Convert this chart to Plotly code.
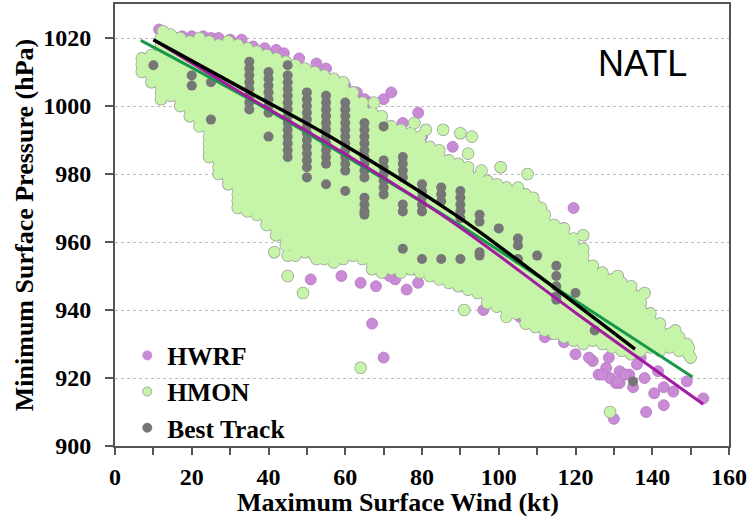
import plotly.graph_objects as go

# ---------------- data ----------------
# HMON model points: column wind values (kt) and the pressures (hPa) seen in each column
hmon_wind_a = [7, 9.5, 12, 14.5, 17, 19.5, 22, 24.5, 27, 29.5, 32, 34.5, 37, 39.5, 42, 44.5, 47, 49.5, 52, 54.5]
hmon_pres_a = [
    [1014, 1012, 1010],
    [1015, 1013, 1011, 1009, 1007],
    [1020, 1018, 1016, 1014, 1012, 1010, 1008, 1006, 1004, 1002],
    [1021, 1019, 1017, 1015, 1013, 1011, 1009, 1007, 1005, 1003],
    [1020, 1018, 1016, 1014, 1012, 1010, 1008, 1006, 1004, 1002, 1000],
    [1019, 1017, 1015, 1013, 1011, 1009, 1007, 1005, 1003, 1001, 999, 997],
    [1020, 1018, 1016, 1014, 1012, 1010, 1008, 1006, 1004, 1002, 1000, 998, 996, 994],
    [1019, 1017, 1015, 1013, 1011, 1009, 1007, 1005, 1003, 1001, 999, 997, 995, 993, 991, 989, 987, 985],
    [1018, 1016, 1014, 1012, 1010, 1008, 1006, 1004, 1002, 1000, 998, 996, 994, 992, 990, 988, 986, 984, 982, 980],
    [1019, 1017, 1015, 1013, 1011, 1009, 1007, 1005, 1003, 1001, 999, 997, 995, 993, 991, 989, 987, 985, 983, 981, 979, 977],
    [1018, 1016, 1014, 1012, 1010, 1008, 1006, 1004, 1002, 1000, 998, 996, 994, 992, 990, 988, 986, 984, 982, 980, 978, 976, 974, 972, 970],
    [1017, 1015, 1013, 1011, 1009, 1007, 1005, 1003, 1001, 999, 997, 995, 993, 991, 989, 987, 985, 983, 981, 979, 977, 975, 973, 971, 969],
    [1016, 1014, 1012, 1010, 1008, 1006, 1004, 1002, 1000, 998, 996, 994, 992, 990, 988, 986, 984, 982, 980, 978, 976, 974, 972, 970, 968],
    [1015, 1013, 1011, 1009, 1007, 1005, 1003, 1001, 999, 997, 995, 993, 991, 989, 987, 985, 983, 981, 979, 977, 975, 973, 971, 969, 967, 965],
    [1014, 1012, 1010, 1008, 1006, 1004, 1002, 1000, 998, 996, 994, 992, 990, 988, 986, 984, 982, 980, 978, 976, 974, 972, 970, 968, 966, 964, 962],
    [1013, 1011, 1009, 1007, 1005, 1003, 1001, 999, 997, 995, 993, 991, 989, 987, 985, 983, 981, 979, 977, 975, 973, 971, 969, 967, 965, 963, 961, 959],
    [1012, 1010, 1008, 1006, 1004, 1002, 1000, 998, 996, 994, 992, 990, 988, 986, 984, 982, 980, 978, 976, 974, 972, 970, 968, 966, 964, 962, 960, 958, 956],
    [1011, 1009, 1007, 1005, 1003, 1001, 999, 997, 995, 993, 991, 989, 987, 985, 983, 981, 979, 977, 975, 973, 971, 969, 967, 965, 963, 961, 959, 957],
    [1010, 1008, 1006, 1004, 1002, 1000, 998, 996, 994, 992, 990, 988, 986, 984, 982, 980, 978, 976, 974, 972, 970, 968, 966, 964, 962, 960, 958, 956],
    [1009, 1007, 1005, 1003, 1001, 999, 997, 995, 993, 991, 989, 987, 985, 983, 981, 979, 977, 975, 973, 971, 969, 967, 965, 963, 961, 959, 957, 955],
]
hmon_wind_b = [57, 59.5, 62, 64.5, 67, 69.5, 72, 74.5, 77, 79.5, 82, 84.5, 87, 89.5, 92, 94.5, 97, 99.5, 102, 104.5]
hmon_pres_b = [
    [1008, 1006, 1004, 1002, 1000, 998, 996, 994, 992, 990, 988, 986, 984, 982, 980, 978, 976, 974, 972, 970, 968, 966, 964, 962, 960, 958, 956, 954],
    [1007, 1005, 1003, 1001, 999, 997, 995, 993, 991, 989, 987, 985, 983, 981, 979, 977, 975, 973, 971, 969, 967, 965, 963, 961, 959, 957, 955],
    [1004, 1002, 1000, 998, 996, 994, 992, 990, 988, 986, 984, 982, 980, 978, 976, 974, 972, 970, 968, 966, 964, 962, 960, 958, 956],
    [1001, 999, 997, 995, 993, 991, 989, 987, 985, 983, 981, 979, 977, 975, 973, 971, 969, 967, 965, 963, 961, 959, 957, 955],
    [998, 996, 994, 992, 990, 988, 986, 984, 982, 980, 978, 976, 974, 972, 970, 968, 966, 964, 962, 960, 958, 956, 954, 952],
    [997, 995, 993, 991, 989, 987, 985, 983, 981, 979, 977, 975, 973, 971, 969, 967, 965, 963, 961, 959, 957, 955, 953, 951],
    [994, 992, 990, 988, 986, 984, 982, 980, 978, 976, 974, 972, 970, 968, 966, 964, 962, 960, 958, 956, 954, 952],
    [993, 991, 989, 987, 985, 983, 981, 979, 977, 975, 973, 971, 969, 967, 965, 963, 961, 959, 957, 955, 953, 951],
    [992, 990, 988, 986, 984, 982, 980, 978, 976, 974, 972, 970, 968, 966, 964, 962, 960, 958, 956, 954, 952],
    [991, 989, 987, 985, 983, 981, 979, 977, 975, 973, 971, 969, 967, 965, 963, 961, 959, 957, 955, 953, 951],
    [988, 986, 984, 982, 980, 978, 976, 974, 972, 970, 968, 966, 964, 962, 960, 958, 956, 954, 952, 950],
    [987, 985, 983, 981, 979, 977, 975, 973, 971, 969, 967, 965, 963, 961, 959, 957, 955, 953, 951, 949],
    [984, 982, 980, 978, 976, 974, 972, 970, 968, 966, 964, 962, 960, 958, 956, 954, 952, 950, 948],
    [983, 981, 979, 977, 975, 973, 971, 969, 967, 965, 963, 961, 959, 957, 955, 953, 951, 949, 947],
    [982, 980, 978, 976, 974, 972, 970, 968, 966, 964, 962, 960, 958, 956, 954, 952, 950, 948, 946],
    [979, 977, 975, 973, 971, 969, 967, 965, 963, 961, 959, 957, 955, 953, 951, 949, 947, 945],
    [978, 976, 974, 972, 970, 968, 966, 964, 962, 960, 958, 956, 954, 952, 950, 948, 946, 944, 942],
    [977, 975, 973, 971, 969, 967, 965, 963, 961, 959, 957, 955, 953, 951, 949, 947, 945, 943, 941],
    [976, 974, 972, 970, 968, 966, 964, 962, 960, 958, 956, 954, 952, 950, 948, 946, 944, 942, 940],
    [975, 973, 971, 969, 967, 965, 963, 961, 959, 957, 955, 953, 951, 949, 947, 945, 943, 941, 939],
]
hmon_wind_c = [107, 109.5, 112, 114.5, 117, 119.5, 122, 124.5, 127, 129.5, 132, 134.5, 137, 139.5, 142, 144.5, 147, 149.5]
hmon_pres_c = [
    [974, 972, 970, 968, 966, 964, 962, 960, 958, 956, 954, 952, 950, 948, 946, 944, 942, 940, 938, 936],
    [971, 969, 967, 965, 963, 961, 959, 957, 955, 953, 951, 949, 947, 945, 943, 941, 939, 937, 935],
    [968, 966, 964, 962, 960, 958, 956, 954, 952, 950, 948, 946, 944, 942, 940, 938, 936, 934],
    [965, 963, 961, 959, 957, 955, 953, 951, 949, 947, 945, 943, 941, 939, 937, 935, 933],
    [964, 962, 960, 958, 956, 954, 952, 950, 948, 946, 944, 942, 940, 938, 936, 934, 932],
    [961, 959, 957, 955, 953, 951, 949, 947, 945, 943, 941, 939, 937, 935, 933, 931],
    [958, 956, 954, 952, 950, 948, 946, 944, 942, 940, 938, 936, 934, 932, 930],
    [953, 951, 949, 947, 945, 943, 941, 939, 937, 935, 933, 931],
    [950, 948, 946, 944, 942, 940, 938, 936, 934, 932, 930],
    [949, 947, 945, 943, 941, 939, 937, 935, 933, 931, 929],
    [948, 946, 944, 942, 940, 938, 936, 934, 932, 930, 928],
    [947, 945, 943, 941, 939, 937, 935, 933, 931, 929, 927],
    [944, 942, 940, 938, 936, 934, 932, 930, 928],
    [939, 937, 935, 933, 931, 929],
    [936, 934, 932, 930, 928],
    [933, 931, 929],
    [932, 930, 928],
    [929, 927],
]
# isolated HMON points around the edge of the cloud
hmon_extra_wind = [12.5, 41.5, 45, 45, 49, 64, 52.5, 69, 81, 85.5, 90, 93, 92, 95.5, 100.5, 107.5, 105, 109, 111,
                   122, 127, 131, 136.5, 138, 146, 149, 150, 129, 91, 102, 67.5, 78]
hmon_extra_pres = [1022, 957, 956, 950, 945, 923, 955, 954, 993, 993, 992, 991, 986, 981, 982, 980, 976, 973, 970,
                   962, 951, 950, 944, 945, 934, 930, 926, 910, 940, 938, 1001, 995]

# HWRF model points visible outside the HMON cloud
hwrf_wind = [11.5, 15, 17.5, 20, 23, 25, 27, 30, 33, 36, 39, 42, 44, 48, 52.5, 55, 57, 60, 63, 65, 66.5, 70, 72,
             75, 79, 80, 88, 100.5, 113.5, 119.5,
             49, 51, 58.7, 59, 64, 64.5, 68, 67, 70, 73, 76, 79, 78, 71.5, 96, 105.5, 110, 112, 113.5, 117, 120,
             124.5, 128, 131.5, 131.5, 130.5, 135, 134, 138, 140.5, 141.5, 143, 145.5, 143, 138.4, 130, 153.3,
             137, 128.7, 123.5, 126, 129, 131, 133, 127, 136, 149]
hwrf_pres = [1022.5, 1020.5, 1020.5, 1020.5, 1020.5, 1020, 1020, 1019.5, 1019.5, 1017.5, 1017, 1016.5, 1015.5, 1014,
             1012.5, 1011, 1008, 1006, 1004, 1002, 1001, 1002, 1004, 995, 998, 991, 988, 982, 963, 970,
             958, 949, 957, 950, 948, 955, 947, 936, 926, 949, 946, 948, 952, 950, 940, 938, 935, 932, 933, 930.5,
             927, 925, 923, 922, 918.5, 918.5, 917.3, 921, 920, 915.5, 922, 917.3, 916, 912, 910, 908, 914,
             926, 926, 926, 921, 920, 919, 921, 921, 924, 919]

# Best Track observations
bt_wind = [10, 20, 20, 25, 25,
           35, 35, 35, 35, 35, 35, 35, 35,
           40, 40, 40, 40, 40, 40, 40, 40,
           45, 45, 45, 45, 45, 45, 45, 45, 45, 45, 45, 45, 45, 45,
           50, 50, 50, 50, 50, 50, 50, 50, 50, 50, 50, 50, 50,
           55, 55, 55, 55, 55, 55, 55, 55, 55, 55, 55, 55,
           60, 60, 60, 60, 60, 60, 60, 60, 60, 60, 60, 60,
           65, 65, 65, 65, 65, 65, 65, 65, 65, 65, 65, 65, 65,
           70, 70, 70, 70, 70, 70, 70,
           75, 75, 75, 75, 75, 75, 75,
           80, 80, 80, 80, 80, 80,
           85, 85, 85, 85,
           90, 90, 90, 90, 90, 90,
           95, 95, 95, 95,
           100, 105, 105, 105, 110,
           115, 115, 115, 115, 115, 120, 125, 135]
bt_pres = [1012, 1009, 1006, 1007, 996,
           1013, 1011, 1009, 1007, 1005, 1003, 1001, 999,
           1010, 1008, 1006, 1004, 1002, 1000, 998, 991,
           1012, 1009, 1007, 1005, 1003, 1001, 999, 997, 995, 993, 991, 989, 987, 985,
           1004, 1002, 1000, 998, 996, 994, 992, 990, 988, 986, 984, 982, 979,
           1003, 1001, 999, 997, 995, 993, 991, 989, 987, 985, 983, 977,
           1001, 999, 997, 995, 993, 991, 989, 987, 985, 983, 981, 975,
           995, 993, 991, 989, 987, 985, 983, 981, 979, 973, 971, 969, 968,
           994, 984, 982, 980, 978, 976, 974,
           985, 983, 981, 979, 971, 969, 958,
           977, 975, 973, 971, 969, 955,
           976, 974, 972, 955,
           975, 973, 971, 969, 967, 955,
           968, 966, 957, 956,
           964, 961, 959, 955, 956,
           953, 950, 947, 944, 943, 945, 934, 919]

# fitted curves
fit_bt_wind = [10, 35, 56, 88, 98, 135.5]
fit_bt_pres = [1019.5, 1004, 991, 968.5, 960.5, 928.5]
fit_hmon_wind = [6.7, 35, 56, 87.5, 120, 150.5]
fit_hmon_pres = [1019.3, 1002, 988, 966.6, 942.7, 920.3]
fit_hwrf_wind = [11, 35, 56, 87.5, 120, 153.3]
fit_hwrf_pres = [1018.8, 1002.4, 988.6, 966.2, 939.2, 912.3]

x_ticks = [0, 20, 40, 60, 80, 100, 120, 140, 160]
y_ticks = [900, 920, 940, 960, 980, 1000, 1020]

# ---------------- build point table ----------------
hmon_x, hmon_y = [], []
for winds, cols in ((hmon_wind_a, hmon_pres_a), (hmon_wind_b, hmon_pres_b), (hmon_wind_c, hmon_pres_c)):
    for w, plist in zip(winds, cols):
        for p in plist:
            hmon_x.append(w)
            hmon_y.append(p)
hmon_x += hmon_extra_wind
hmon_y += hmon_extra_pres

SERIF = "Liberation Serif, Times New Roman, serif"
HMON_FILL = "#C6F4A8"
HMON_EDGE = "#9DA59B"
HWRF_FILL = "#C98AD6"
BT_FILL = "#767676"

fig = go.Figure()

fig.add_trace(go.Scatter(x=hwrf_wind, y=hwrf_pres, mode="markers", showlegend=False, hoverinfo="skip",
                         marker=dict(size=11, color=HWRF_FILL, line=dict(width=0.8, color="#B478C2"))))
fig.add_trace(go.Scatter(x=hmon_x, y=hmon_y, mode="markers", showlegend=False, hoverinfo="skip",
                         marker=dict(size=11, color=HMON_FILL, line=dict(width=1.6, color=HMON_EDGE))))
fig.add_trace(go.Scatter(x=hmon_x, y=hmon_y, mode="markers", showlegend=False, hoverinfo="skip",
                         marker=dict(size=11, color=HMON_FILL, line=dict(width=0))))
fig.add_trace(go.Scatter(x=bt_wind, y=bt_pres, mode="markers", showlegend=False, hoverinfo="skip",
                         marker=dict(size=10, color=BT_FILL, line=dict(width=0))))

fig.add_trace(go.Scatter(x=fit_hmon_wind, y=fit_hmon_pres, mode="lines", showlegend=False,
                         line=dict(color="#17994A", width=3, shape="spline")))
fig.add_trace(go.Scatter(x=fit_hwrf_wind, y=fit_hwrf_pres, mode="lines", showlegend=False,
                         line=dict(color="#A41AA0", width=3, shape="spline")))
fig.add_trace(go.Scatter(x=fit_bt_wind, y=fit_bt_pres, mode="lines", showlegend=False,
                         line=dict(color="#000000", width=3.5, shape="spline")))

# legend entries
for name, col, edge in (("HWRF", HWRF_FILL, HWRF_FILL), ("HMON", HMON_FILL, HMON_EDGE), ("Best Track", BT_FILL, BT_FILL)):
    fig.add_trace(go.Scatter(x=[None], y=[None], mode="markers", name=name,
                             marker=dict(size=9, color=col, line=dict(width=1, color=edge))))

fig.add_annotation(x=137.5, y=1012.5, xref="x", yref="y", text="NATL", showarrow=False,
                   font=dict(family="Liberation Sans, Arial, sans-serif", size=36, color="#000000"))
fig.add_annotation(x=0.461, y=-0.128, xref="paper", yref="paper", text="Maximum Surface Wind (kt)",
                   showarrow=False, xanchor="center", yanchor="middle",
                   font=dict(family=SERIF, size=26, color="#000000", weight="bold"))

fig.update_layout(
    width=750, height=517,
    margin=dict(l=115, r=21, t=2, b=71),
    paper_bgcolor="white", plot_bgcolor="white",
    showlegend=True,
    legend=dict(x=0.02, y=-0.012, xanchor="left", yanchor="bottom", bgcolor="rgba(0,0,0,0)",
                font=dict(family=SERIF, size=25.5, color="#000000", weight="bold"),
                itemwidth=30, tracegroupgap=0),
    xaxis=dict(range=[0, 160], tickvals=x_ticks, ticks="outside", ticklen=7, tickwidth=1.5, tickcolor="#555555",
               showline=True, mirror=True, linewidth=2, linecolor="#555555", showgrid=False, zeroline=False,
               minor=dict(dtick=10, tick0=0, ticks="outside", ticklen=7, tickwidth=1.5, tickcolor="#555555", showgrid=False),
               tickfont=dict(family=SERIF, size=24, color="#000000", weight="bold"),
               ticklabelstandoff=1),
    yaxis=dict(range=[900, 1030], tickvals=y_ticks, ticks="outside", ticklen=8, tickwidth=1.5, tickcolor="#555555",
               showline=True, mirror=True, linewidth=2, linecolor="#555555", zeroline=False,
               showgrid=True, gridcolor="#BBBBBB", griddash="dot", gridwidth=1,
               tickfont=dict(family=SERIF, size=24, color="#000000", weight="bold"),
               ticklabelstandoff=9,
               title=dict(text="Minimum Surface Pressure (hPa)", standoff=2,
                          font=dict(family=SERIF, size=26, color="#000000", weight="bold"))),
)

fig.write_html("out.html")
